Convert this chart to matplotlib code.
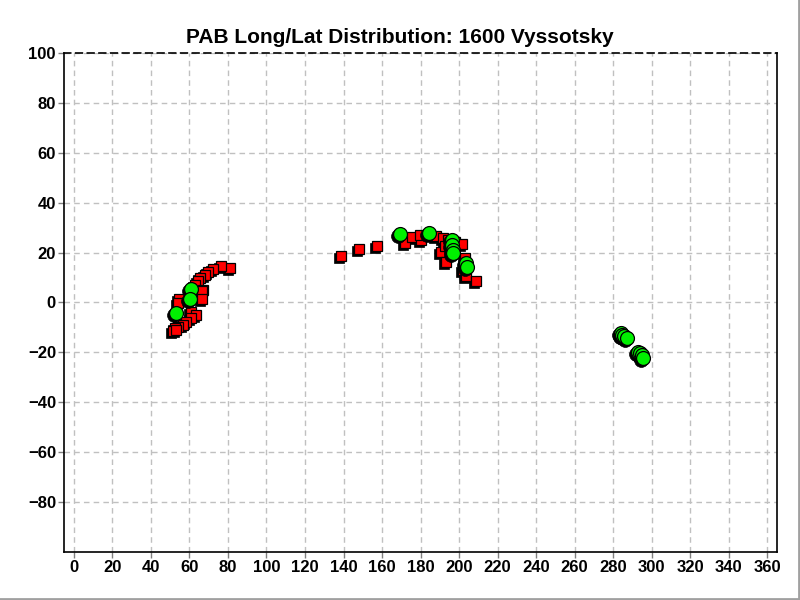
import matplotlib
matplotlib.use("Agg")
import matplotlib.pyplot as plt
import matplotlib.transforms as mtransforms
from matplotlib.lines import Line2D

plt.rcParams['font.family'] = ['Liberation Sans', 'DejaVu Sans']

# red squares (longitude, latitude)
sq_lon = [81.0, 76.6, 72.2, 69.6, 67.9, 65.7, 64.4, 62.7, 67.0, 66.5, 66.5,
          54.4, 54.0, 61.0, 63.6, 61.0, 58.4, 56.6, 54.0, 52.3, 51.5, 53.0,
          138.9, 148.0, 157.4, 171.9, 175.6, 180.1, 179.5, 188.2, 191.7,
          194.3, 197.7, 201.6, 190.8, 193.4, 203.0, 202.0, 203.5, 209.0,
          192.5, 195.5]
sq_lat = [13.9, 14.7, 13.4, 12.3, 11.0, 9.7, 8.6, 7.0, 5.0, 4.6, 1.4,
          1.4, -0.3, -3.7, -5.0, -6.3, -7.7, -9.0, -9.7, -10.3, -11.3, -11.0,
          18.6, 21.3, 22.6, 23.9, 26.1, 25.0, 27.0, 26.6, 25.7,
          25.0, 24.3, 23.4, 20.3, 16.3, 17.7, 13.0, 10.7, 8.6,
          22.5, 21.5]

# green circles (longitude, latitude)
gc_lon = [61.0, 60.2, 53.2,
          169.5, 184.4, 196.6, 196.6, 196.8, 197.0, 203.5, 204.4,
          284.0, 284.7, 285.6, 287.0, 293.0, 293.9, 294.8, 295.6]
gc_lat = [5.4, 1.4, -4.3,
          27.4, 27.9, 25.0, 23.0, 21.2, 19.7, 16.0, 14.3,
          -12.3, -12.9, -13.4, -14.3, -19.7, -20.3, -21.0, -22.1]

fig = plt.figure(figsize=(8, 6), dpi=100)
ax = fig.add_axes([0.0804, 0.08, 0.8905, 0.8317])

# shadow copies shifted down-left
shadow = mtransforms.offset_copy(ax.transData, fig=fig, x=-2, y=-2, units='dots')
ax.plot(sq_lon, sq_lat, 's', ms=6.8, color='black', mec='black', mew=0.5, transform=shadow, zorder=3)
ax.plot(sq_lon, sq_lat, 's', ms=6.8, color='#ff0000', mec='black', mew=0.9, zorder=4)
ax.plot(gc_lon, gc_lat, 'o', ms=10, color='black', mec='black', mew=0.5, transform=shadow, zorder=5)
ax.plot(gc_lon, gc_lat, 'o', ms=10, color='#00f000', mec='black', mew=0.9, zorder=6)

ax.set_xlim(-5, 365)
ax.set_ylim(-100, 100)
ax.set_xticks(range(0, 361, 20))
ax.set_yticks(range(-80, 101, 20))
ax.grid(True, color='#c0c0c0', linestyle=(0, (4, 3)), linewidth=1)
ax.set_axisbelow(True)

for lab in ax.get_xticklabels() + ax.get_yticklabels():
    lab.set_fontweight('bold')
ax.tick_params(labelsize=12, length=4, color='#808080', width=1, pad=2)

ax.spines['top'].set_linestyle((0, (4, 3)))
for s in ax.spines.values():
    s.set_linewidth(1.2)

fig.text(0.5, 0.929, 'PAB Long/Lat Distribution: 1600 Vyssotsky',
         ha='center', va='baseline', fontsize=15, fontweight='bold')

# grey frame on right and bottom edge
fig.add_artist(Line2D([0.9985, 0.9985], [0, 1], transform=fig.transFigure, color='#a0a0a0', lw=2))
fig.add_artist(Line2D([0, 1], [0.0025, 0.0025], transform=fig.transFigure, color='#a0a0a0', lw=2))

fig.savefig('out.png', dpi=100)
